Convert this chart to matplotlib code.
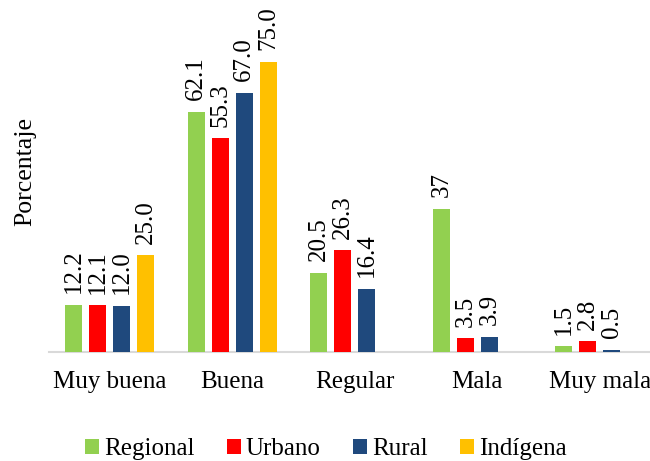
import matplotlib
matplotlib.use("Agg")
import matplotlib.pyplot as plt
import numpy as np

categories = ["Muy buena", "Buena", "Regular", "Mala", "Muy mala"]
series = ["Regional", "Urbano", "Rural", "Indígena"]
regional = [12.2, 62.1, 20.5, 37, 1.5]
urbano = [12.1, 55.3, 26.3, 3.5, 2.8]
rural = [12.0, 67.0, 16.4, 3.9, 0.5]
indigena = [25.0, 75.0, None, None, None]
regional_lbl = ["12.2", "62.1", "20.5", "37", "1.5"]
urbano_lbl = ["12.1", "55.3", "26.3", "3.5", "2.8"]
rural_lbl = ["12.0", "67.0", "16.4", "3.9", "0.5"]
indigena_lbl = ["25.0", "75.0", None, None, None]
colors = ["#92D050", "#FF0000", "#1F497D", "#FFC000"]

plt.rcParams['font.family'] = ['Liberation Serif', 'DejaVu Serif']

W, H = 650, 461
fig = plt.figure(figsize=(W / 100, H / 100), dpi=100)
left, right, bottom, top = 48.5, 650, 352, 0
ax = fig.add_axes([left / W, (H - bottom) / H, (right - left) / W, (bottom - top) / H])

x = np.arange(len(categories))
step = 0.196
width = 0.139
data = [regional, urbano, rural, indigena]
labels = [regional_lbl, urbano_lbl, rural_lbl, indigena_lbl]
for i, (vals, lbls, c, name) in enumerate(zip(data, labels, colors, series)):
    xs = x + (i - 1.5) * step
    hv = [np.nan if v is None else v for v in vals]
    ax.bar(xs, hv, width=width, color=c, label=name, edgecolor='none', zorder=3)
    for xi, v, l in zip(xs, vals, lbls):
        if v is None:
            continue
        ax.text(xi, v + 3.0, l, rotation=90, ha='center', va='bottom', fontsize=18, color='black')

ax.set_xlim(-0.5, 4.41)
ax.set_ylim(0, 352 / 3.866)
ax.set_xticks(x)
ax.set_xticklabels(categories, fontsize=18)
ax.tick_params(axis='x', length=0, pad=14)
ax.set_yticks([])
for s in ['top', 'right', 'left']:
    ax.spines[s].set_visible(False)
ax.spines['bottom'].set_color('#D9D9D9')
ax.spines['bottom'].set_linewidth(1.5)
ax.spines['bottom'].set_zorder(2)
ax.set_ylabel("Porcentaje", fontsize=18.5, labelpad=10)
ax.yaxis.set_label_coords(-12 / (right - left), (352 - 171) / 352)

leg = fig.legend(loc='center', bbox_to_anchor=(326 / W, (H - 449) / H), ncol=4, frameon=False,
                 fontsize=18, handlelength=0.55, handleheight=0.55, handletextpad=0.2, columnspacing=1.3)
fig.savefig("out.png", dpi=100)
